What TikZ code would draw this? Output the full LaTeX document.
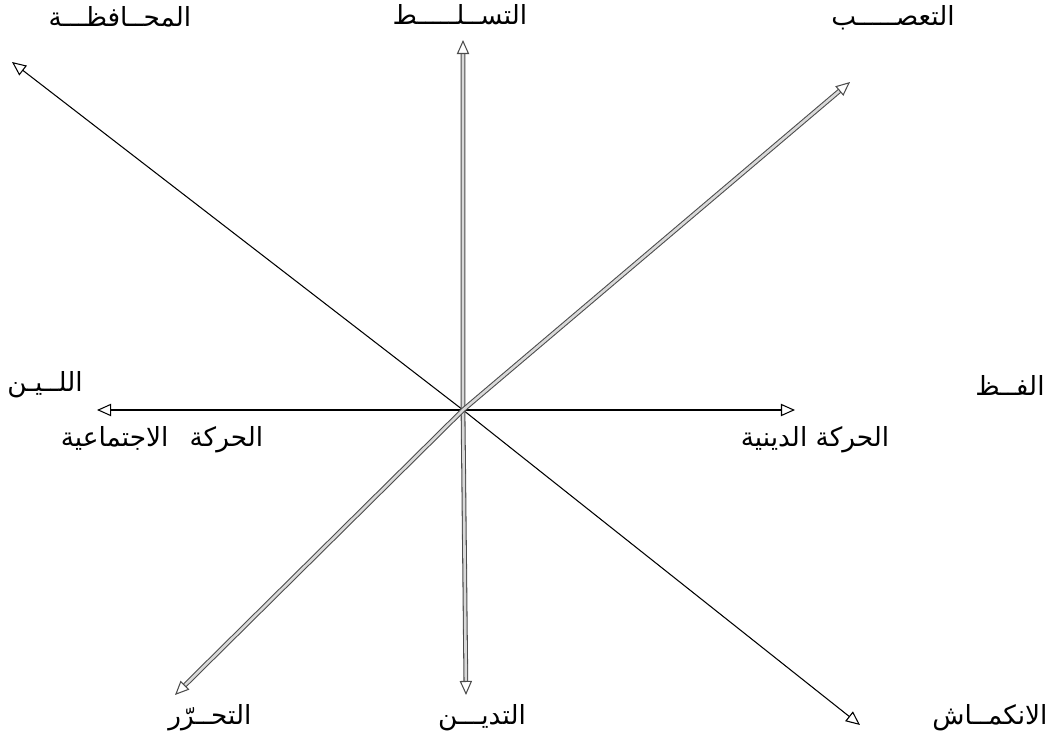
\documentclass[tikz,border=0pt]{standalone}
\usepackage{fontspec}
\newfontfamily\arabicfont[Script=Arabic]{DejaVu Sans}
\TeXXeTstate=1
\usetikzlibrary{arrows.meta,positioning}
\newcommand{\ar}[1]{\arabicfont\beginR #1\endR}

\begin{document}
\begin{tikzpicture}[x=0.02cm,y=-0.02cm,
          axis/.style={line width=0.6pt,black,{Triangle[open,length=8pt,width=7pt]}-{Triangle[open,length=8pt,width=7pt]}},
          dblaxis/.style={axis,draw=black!70,line width=0.6pt,double=black!15,double distance=1.5pt},
          lbl/.style={inner sep=1pt,font=\fontsize{15}{18}\selectfont}]
          \useasboundingbox (0,0) rectangle (1054,732);
          % centre and arrow tips
          \coordinate (o) at (463,410);
          \coordinate (tl) at (12,62);
          \coordinate (br) at (860,725);
          \coordinate (tr) at (850,82);
          \coordinate (bl) at (175,695);
          \coordinate (t) at (463,40);
          \coordinate (b) at (466,695);
          \coordinate (l) at (97,410);
          \coordinate (r) at (795,410);
          % labels
          \node[lbl] (mh) at (120,17)  {\ar{المحــافظـــة}};
          \node[lbl] (ts) at (460,15)  {\ar{التســلـــــط}};
          \node[lbl] (ta) at (893,18)  {\ar{التعصـــــب}};
          \node[lbl] (ln) at (45,385)  {\ar{اللــيـن}};
          \node[lbl] (fz) at (1010,385) {\ar{الفــظ}};
          \node[lbl] (hj) at (162,440) {\ar{الحركة\hspace{0.8em}الاجتماعية}};
          \node[lbl] (hd) at (815,440) {\ar{الحركة الدينية}};
          \node[lbl] (th) at (210,718) {\ar{التحــرّر}};
          \node[lbl] (td) at (482,718) {\ar{التديـــن}};
          \node[lbl] (nk) at (990,718) {\ar{الانكمــاش}};
          % axes
          \draw[axis] (l) -- (r);
          \draw[axis] (tl) -- (o) -- (br);
          \draw[dblaxis] (t) -- (o) -- (b);
          \draw[dblaxis] (bl) -- (o) -- (tr);
        \end{tikzpicture}
\end{document}
